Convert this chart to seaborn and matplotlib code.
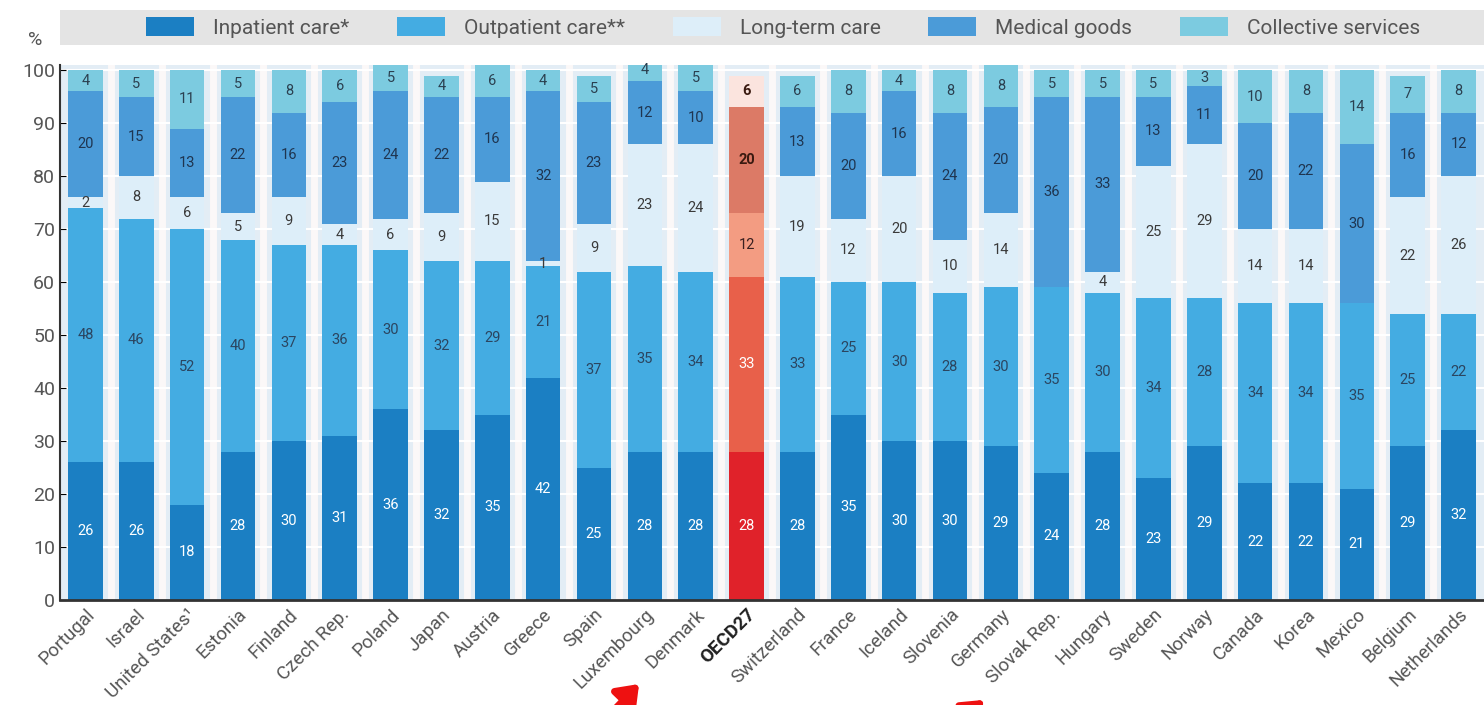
import numpy as np
import pandas as pd
import matplotlib
matplotlib.use("Agg")
import matplotlib.pyplot as plt
import seaborn as sns
from matplotlib.patches import Patch, FancyArrowPatch

# datos
countries = ["Portugal", "Israel", "United States¹", "Estonia", "Finland", "Czech Rep.",
             "Poland", "Japan", "Austria", "Greece", "Spain", "Luxembourg", "Denmark",
             "OECD27", "Switzerland", "France", "Iceland", "Slovenia", "Germany",
             "Slovak Rep.", "Hungary", "Sweden", "Norway", "Canada", "Korea", "Mexico",
             "Belgium", "Netherlands"]
inpatient = [26, 26, 18, 28, 30, 31, 36, 32, 35, 42, 25, 28, 28, 28, 28, 35, 30, 30, 29,
             24, 28, 23, 29, 22, 22, 21, 29, 32]
outpatient = [48, 46, 52, 40, 37, 36, 30, 32, 29, 21, 37, 35, 34, 33, 33, 25, 30, 28, 30,
              35, 30, 34, 28, 34, 34, 35, 25, 22]
longterm = [2, 8, 6, 5, 9, 4, 6, 9, 15, 1, 9, 23, 24, 12, 19, 12, 20, 10, 14,
            0, 4, 25, 29, 14, 14, 0, 22, 26]
goods = [20, 15, 13, 22, 16, 23, 24, 22, 16, 32, 23, 12, 10, 20, 13, 20, 16, 24, 20,
         36, 33, 13, 11, 20, 22, 30, 16, 12]
collective = [4, 5, 11, 5, 8, 6, 5, 4, 6, 4, 5, 4, 5, 6, 6, 8, 4, 8, 8,
              5, 5, 5, 3, 10, 8, 14, 7, 8]
series_names = ["Inpatient care*", "Outpatient care**", "Long-term care",
                "Medical goods", "Collective services"]

blues = ["#1b7fc3", "#44ace2", "#ddeef9", "#4b9bd8", "#7ccbe0"]
reds = ["#e0222a", "#e8604a", "#f39c82", "#dc7a66", "#fbe4de"]
lbl_blue = ["white", "#2b4560", "#3a3a3a", "#1f3550", "#2b4050"]
lbl_red = ["white", "white", "#3a2020", "#3a1a10", "#3a1a10"]

FONT = ["Roboto", "DejaVu Sans"]

series = [inpatient, outpatient, longterm, goods, collective]
df = pd.DataFrame({"pais": countries})
for name, vals in zip(series_names, series):
    df[name] = vals
cum = df[series_names].cumsum(axis=1)

fig = plt.figure(figsize=(14.84, 7.05), dpi=100)
ax = fig.add_axes([60 / 1484, 1 - 600 / 705, 1 - 60 / 1484, 535 / 705])
ax.set_facecolor("#e3edf5")

# franjas blancas entre barras y rejilla
for i in range(len(countries) - 1):
    ax.axvline(i + 0.5, color="#fbf8f8", lw=5, zorder=0)
for yv in range(10, 101, 10):
    ax.axhline(yv, color="white", lw=1.5, zorder=0.5)

# barras apiladas: se dibuja desde el total hacia abajo
for k in range(len(series_names) - 1, -1, -1):
    pal = {c: (reds[k] if c == "OECD27" else blues[k]) for c in countries}
    sns.barplot(x=df["pais"], y=cum[series_names[k]], hue=df["pais"], palette=pal,
                legend=False, width=0.68, saturation=1, ax=ax, zorder=2)

# etiquetas de valores
for i, c in enumerate(countries):
    base = 0
    for k, vals in enumerate(series):
        v = vals[i]
        if v > 0:
            col = lbl_red[k] if c == "OECD27" else lbl_blue[k]
            fw = "bold" if (c == "OECD27" and k >= 3) else "normal"
            ax.text(i, base + v / 2, str(v), ha="center", va="center", fontsize=10.5,
                    color=col, fontweight=fw, family=FONT, zorder=5)
        base += v

ax.set_xlim(-0.5, len(countries) - 0.5)
ax.set_ylim(0, 101)
ax.set_yticks(range(0, 101, 10))
ax.set_xlabel("")
ax.set_ylabel("")
ax.tick_params(axis="y", direction="in", length=4, labelsize=14, labelcolor="#555555")
for t in ax.get_yticklabels():
    t.set_family(FONT)
ax.tick_params(axis="x", length=0, pad=4)
ax.set_xticks(range(len(countries)))
ax.set_xticklabels(countries, rotation=45, ha="right", rotation_mode="anchor",
                   fontsize=13.5, color="#555555", family=FONT)
for t in ax.get_xticklabels():
    if t.get_text() == "OECD27":
        t.set_fontweight("bold")
        t.set_color("#222222")
for s in ["top", "right"]:
    ax.spines[s].set_visible(False)
ax.spines["left"].set_color("#333333")
ax.spines["left"].set_linewidth(1.5)
ax.spines["bottom"].set_color("#333333")
ax.spines["bottom"].set_linewidth(2)

# banda gris de la leyenda
fig.patches.append(matplotlib.patches.Rectangle(
    (60 / 1484, 1 - 45 / 705), 1 - 60 / 1484, 35 / 705, transform=fig.transFigure,
    facecolor="#e4e4e4", edgecolor="none", zorder=0))
handles = [Patch(facecolor=blues[k], edgecolor="none") for k in range(5)]
leg = fig.legend(handles, series_names, loc="center left", ncol=5, mode="expand",
                 bbox_to_anchor=(138 / 1484, 1 - 28 / 705, 1290 / 1484, 0.001),
                 frameon=False, handlelength=2.3, handleheight=1.0, handletextpad=0.9,
                 borderaxespad=0, prop={"family": FONT, "size": 15})
for t in leg.get_texts():
    t.set_color("#555555")

fig.text(35 / 1484, 1 - 40 / 705, "%", fontsize=14, color="#555555", ha="center",
         va="center", family=FONT)

# flechas rojas de anotación
fig.patches.append(FancyArrowPatch(
    (612 / 1484, -0.01), (641 / 1484, 1 - 682 / 705), transform=fig.transFigure,
    arrowstyle="-|>,head_width=9,head_length=12", color="#ee1111", lw=5, mutation_scale=1))
fig.patches.append(FancyArrowPatch(
    (955 / 1484, -0.03), (986 / 1484, 1 - 698 / 705), transform=fig.transFigure,
    arrowstyle="-|>,head_width=9,head_length=12", color="#ee1111", lw=5, mutation_scale=1))

fig.savefig("out.png", dpi=100)
